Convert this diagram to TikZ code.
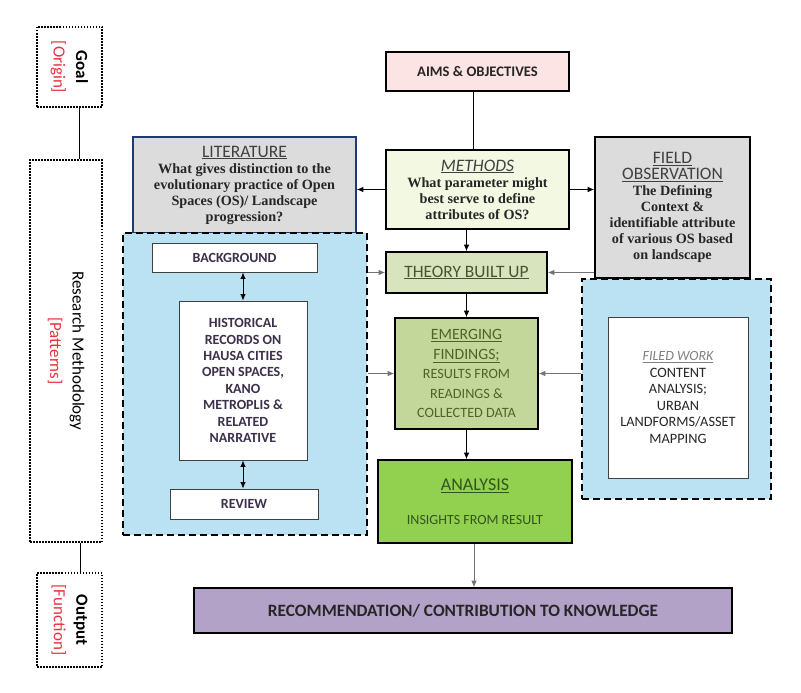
\documentclass[tikz,border=0pt]{standalone}
\usepackage{fontspec}
\setmainfont{Carlito}
\newfontfamily\qfont{Liberation Serif}
\usetikzlibrary{arrows.meta, positioning, calc}
\definecolor{aimspink}{RGB}{252,228,228}
\definecolor{methgreen}{RGB}{243,248,227}
\definecolor{boxgray}{RGB}{220,220,220}
\definecolor{litblue}{RGB}{31,56,120}
\definecolor{grpblue}{RGB}{187,226,242}
\definecolor{theorygreen}{RGB}{215,228,189}
\definecolor{emerggreen}{RGB}{196,215,155}
\definecolor{anagreen}{RGB}{146,208,80}
\definecolor{reclilac}{RGB}{179,162,199}
\definecolor{histtext}{RGB}{60,48,74}
\definecolor{olivetext}{RGB}{79,98,40}
\definecolor{theorytext}{RGB}{72,82,52}
\definecolor{anatext}{RGB}{50,85,30}
\definecolor{labred}{RGB}{232,51,63}
\definecolor{darktext}{RGB}{38,38,38}
\definecolor{hdgray}{RGB}{64,64,64}
\newcommand\hdfont{\normalfont\fontsize{17.5}{19}\selectfont\color{hdgray}}
\newcommand\qsfont{\qfont\bfseries\fontsize{14.2}{16}\selectfont}

\begin{document}
\begin{tikzpicture}[
    x=1pt, y=-1pt,
    box/.style={draw=black, line width=1.6pt, align=center, inner sep=2pt, text=darktext},
    wbox/.style={draw=black!75, line width=0.8pt, fill=white, align=center, inner sep=2pt,
      text=histtext, font=\bfseries\fontsize{14}{16.4}\selectfont},
    grp/.style={draw=black, line width=1.6pt, dash pattern=on 7pt off 4pt, fill=grpblue},
    dotbox/.style={draw=black, line width=1.5pt, dash pattern=on 1.5pt off 1.5pt},
    sidelab/.style={rotate=-90, align=center, font=\fontsize{17}{22.5}\selectfont},
    lnk/.style={line width=0.9pt, -{Latex[length=6.5pt,width=5.5pt]}},
    glnk/.style={lnk, draw=black!55},
    dlnk/.style={line width=0.9pt, {Latex[length=6.5pt,width=5.5pt]}-{Latex[length=6.5pt,width=5.5pt]}}
  ]
  \useasboundingbox (0,0) rectangle (801,693);

  \node[dotbox, minimum width=65pt, minimum height=80pt] (goal) at (69.5,67) {};
  \node[dotbox, minimum width=72pt, minimum height=382pt] (rm) at (66,351) {};
  \node[dotbox, minimum width=65pt, minimum height=94pt] (output) at (69.5,620) {};
  \node[sidelab] (goallab) at (goal) {\textbf{Goal}\\\textcolor{labred}{[Origin]}};
  \node[sidelab] (rmlab) at (rm) {Research Methodology\\\textcolor{labred}{[Patterns]}};
  \node[sidelab] (outlab) at (output) {\textbf{Output}\\\textcolor{labred}{[Function]}};
  \draw[line width=0.9pt] ([xshift=10pt]goal.south) -- ([xshift=10pt]goal.south |- rm.north);
  \draw[line width=0.9pt] ([xshift=14pt]rm.south) -- ([xshift=14pt]rm.south |- output.north);

  \node[box, fill=aimspink, minimum width=183pt, minimum height=39pt,
    font=\bfseries\fontsize{14.6}{17}\selectfont] (aims) at (477.5,71.5) {AIMS \& OBJECTIVES};

  \node[box, fill=methgreen, minimum width=183pt, minimum height=79pt, font=\qsfont] (methods) at (477.5,189.5)
    {{\hdfont\textit{\underline{METHODS}}}\\
     What parameter might\\best serve to define\\attributes of OS?};

  \node[box, draw=litblue, fill=boxgray, minimum width=223pt, minimum height=96pt, font=\qsfont] (lit) at (244.5,185)
    {{\hdfont\underline{LITERATURE}}\\
     What gives distinction to the\\evolutionary practice of Open\\Spaces (OS)/ Landscape\\progression?};

  \node[box, fill=boxgray, minimum width=155pt, minimum height=141pt, font=\qsfont] (field) at (672.5,207.5)
    {{\hdfont\underline{FIELD}}\\{\hdfont\underline{OBSERVATION}}\\
     The Defining\\Context \&\\identifiable attribute\\of various OS based\\on landscape};

  \node[grp, minimum width=244pt, minimum height=302pt] (leftgrp) at (245,384) {};
  \node[wbox, minimum width=165pt, minimum height=29pt] (bg) at (234.5,257.5) {BACKGROUND};
  \node[wbox, minimum width=128pt, minimum height=159pt] (hist) at (243,380.5)
    {HISTORICAL\\RECORDS ON\\HAUSA CITIES\\OPEN SPACES,\\KANO\\METROPLIS \&\\RELATED\\NARRATIVE};
  \node[wbox, minimum width=148pt, minimum height=30pt] (review) at (244,504) {REVIEW};
  \draw[dlnk] (hist.north |- bg.south) -- (hist.north);
  \draw[dlnk] (hist.south) -- (hist.south |- review.north);

  \node[grp, minimum width=189pt, minimum height=220pt] (rightgrp) at (676.5,389) {};
  \node[wbox, minimum width=140pt, minimum height=161pt, text=darktext, font=\fontsize{14.3}{16.6}\selectfont] (filed) at (678,397.5)
    {{\fontsize{14}{16.6}\selectfont\color{gray}\textit{\underline{FILED WORK}}}\\
     CONTENT\\ANALYSIS;\\URBAN\\LANDFORMS/ASSET\\MAPPING};

  \node[box, fill=theorygreen, minimum width=161pt, minimum height=41pt, text=theorytext,
    font=\fontsize{17.4}{20}\selectfont] (theory) at (466.5,272.5) {\underline{THEORY BUILT UP}};

  \node[box, fill=emerggreen, minimum width=143pt, minimum height=111pt, text=olivetext,
    font=\fontsize{14.2}{19.5}\selectfont] (emerg) at (466.5,373.5)
    {{\fontsize{15.7}{19.5}\selectfont\underline{EMERGING}}\\{\fontsize{15.7}{19.5}\selectfont\underline{FINDINGS;}}\\
     RESULTS FROM\\READINGS \&\\COLLECTED DATA};

  \node[box, fill=anagreen, minimum width=194pt, minimum height=83pt, text=anatext] (analysis) at (475,501.5)
    {{\fontsize{18}{20}\selectfont\underline{ANALYSIS}}\\[22pt]
     {\fontsize{14}{16}\selectfont INSIGHTS FROM RESULT}};

  \node[box, fill=reclilac, minimum width=538pt, minimum height=45pt,
    font=\bfseries\fontsize{17.3}{20}\selectfont] (rec) at (463,610.5)
    {RECOMMENDATION/ CONTRIBUTION TO KNOWLEDGE};

  \draw[line width=0.9pt] ([xshift=-4pt]aims.south) -- ([xshift=-4pt]aims.south |- methods.north);
  \draw[lnk] (methods.west) -- (methods.west -| lit.east);
  \draw[lnk] (methods.east) -- (methods.east -| field.west);
  \draw[lnk] (methods.south -| theory.north) -- (theory.north);
  \draw[glnk] (leftgrp.east |- theory.west) -- (theory.west);
  \draw[glnk] (field.west |- theory.east) -- (theory.east);
  \draw[lnk] (theory.south) -- (emerg.north);
  \draw[glnk] (leftgrp.east |- emerg.west) -- (emerg.west);
  \draw[glnk] (rightgrp.west |- emerg.east) -- (emerg.east);
  \draw[lnk] (emerg.south) -- (emerg.south |- analysis.north);
  \draw[glnk] ([xshift=-1pt]analysis.south) -- ([xshift=-1pt]analysis.south |- rec.north);
\end{tikzpicture}
\end{document}
